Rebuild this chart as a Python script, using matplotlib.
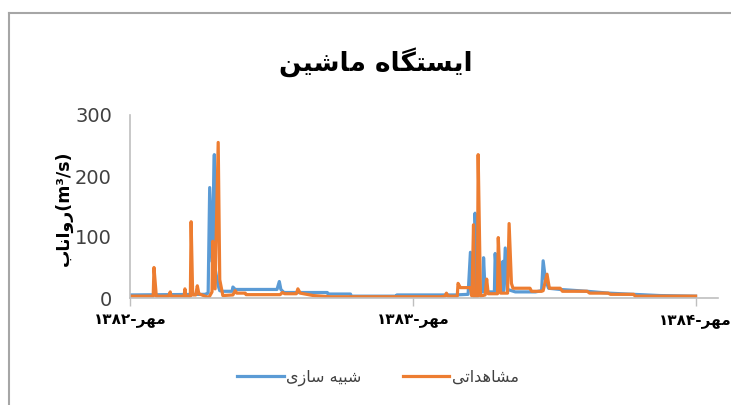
import matplotlib
matplotlib.use("Agg")
from matplotlib import pyplot as plt
from matplotlib.lines import Line2D
from matplotlib.transforms import ScaledTranslation
import numpy as np

# days since 1 Mehr 1382
sim_day = [0, 97, 101, 103, 106, 109, 110, 114, 116, 120, 132, 133, 136, 190, 193,
           195, 199, 255, 256, 285, 286, 344, 345, 401, 420, 437, 440, 442, 445, 446,
           449, 456, 457, 459, 471, 472, 475, 481, 482, 483, 485, 488, 498, 524, 532,
           534, 537, 541, 556, 591, 618, 651, 685, 731]
sim_q = [5, 6, 8, 181, 60, 235, 48, 20, 12, 11, 11, 18, 14, 14, 27,
         14, 9, 9, 6.5, 6.5, 3, 3, 5, 5, 5, 6, 75, 8, 8, 139,
         10, 10, 66, 10, 10, 73, 12, 12, 60, 12, 82, 14, 10, 10, 12,
         61, 30, 16, 14, 11, 8, 6, 4, 3]

obs_day = [0, 30, 31, 34, 50, 52, 53, 70, 71, 72, 78, 79, 81, 85, 87, 89, 97, 102,
           106, 107, 110, 114, 116, 120, 133, 136, 138, 149, 150, 194, 197, 200, 215,
           217, 220, 237, 259, 401, 407, 409, 411, 423, 424, 427, 440, 442, 444, 445,
           449, 450, 453, 459, 461, 463, 475, 476, 479, 488, 490, 493, 495, 517, 519,
           532, 534, 539, 542, 556, 559, 591, 594, 618, 621, 651, 653, 731]
obs_q = [3, 3, 50, 3, 3, 10, 3, 3, 15, 3, 3, 125, 5, 5, 20, 7, 3, 1,
         10, 93, 15, 255, 30, 4, 5, 12, 8, 8, 5.5, 5.5, 9, 7, 7,
         15, 8, 4, 2, 2, 3, 8, 3, 3, 24, 17, 17, 3, 120, 2,
         2, 235, 3, 5, 31, 7, 7, 99, 8, 8, 122, 24, 16, 16, 11,
         11, 12, 39, 16, 16, 11, 11, 8, 8, 6, 6, 3, 3]

tick_days = [0, 366, 731]
tick_years = ["۱۳۸۲", "۱۳۸۳", "۱۳۸۴"]
month = "مهر"
title = "ایستگاه ماشین"
ylabel_fa = "رواناب"
ylabel_unit = "(m³/s)"
sim_name = "شبیه سازی"
obs_name = "مشاهداتی"

# presentation forms: isolated, final, initial, medial
FORMS = {
    "ا": ("\uFE8D", "\uFE8E", None, None),
    "ب": ("\uFE8F", "\uFE90", "\uFE91", "\uFE92"),
    "ت": ("\uFE95", "\uFE96", "\uFE97", "\uFE98"),
    "د": ("\uFEA9", "\uFEAA", None, None),
    "ر": ("\uFEAD", "\uFEAE", None, None),
    "ز": ("\uFEAF", "\uFEB0", None, None),
    "س": ("\uFEB1", "\uFEB2", "\uFEB3", "\uFEB4"),
    "ش": ("\uFEB5", "\uFEB6", "\uFEB7", "\uFEB8"),
    "م": ("\uFEE1", "\uFEE2", "\uFEE3", "\uFEE4"),
    "ن": ("\uFEE5", "\uFEE6", "\uFEE7", "\uFEE8"),
    "ه": ("\uFEE9", "\uFEEA", "\uFEEB", "\uFEEC"),
    "و": ("\uFEED", "\uFEEE", None, None),
    "ی": ("\uFBFC", "\uFBFD", "\uFBFE", "\uFBFF"),
    "گ": ("\uFB92", "\uFB93", "\uFB94", "\uFB95"),
}


def shape(text):
    out = []
    for i, ch in enumerate(text):
        f = FORMS.get(ch)
        if f is None:
            out.append(ch)
            continue
        prev = FORMS.get(text[i - 1]) if i > 0 else None
        nxt = FORMS.get(text[i + 1]) if i + 1 < len(text) else None
        jp = prev is not None and prev[2] is not None
        jn = nxt is not None and f[2] is not None
        if jp and jn:
            out.append(f[3])
        elif jp:
            out.append(f[1])
        elif jn:
            out.append(f[2])
        else:
            out.append(f[0])
    return "".join(reversed(out))


plt.rcParams["font.family"] = ["DejaVu Sans"]
blue = "#5B9BD5"
orange = "#ED7D31"
grey_txt = "#404040"
grey_ax = "#BFBFBF"

fig = plt.figure(figsize=(7.31, 4.05), dpi=100)
ax = fig.add_axes([130 / 731, 1 - 298 / 405, 588 / 731, 183 / 405])

ax.plot(sim_day, sim_q, color=blue, lw=2.3)
ax.plot(obs_day, obs_q, color=orange, lw=2.3)

ax.set_xlim(0, 760)
ax.set_ylim(0, 300)
ax.set_yticks([0, 100, 200, 300])
ax.set_xticks(tick_days)
ax.set_xticklabels([y + "-" + shape(month) for y in tick_years],
                   fontweight="bold", fontsize=11, color="black")
shift = ScaledTranslation(-6 / 100, 0, fig.dpi_scale_trans)
for lab in ax.get_xticklabels():
    lab.set_transform(lab.get_transform() + shift)
ax.tick_params(axis="y", length=0, pad=13, labelsize=14, labelcolor=grey_txt)
ax.tick_params(axis="x", length=6, width=1, color=grey_ax, pad=5)

for s in ["top", "right"]:
    ax.spines[s].set_visible(False)
for s in ["left", "bottom"]:
    ax.spines[s].set_color(grey_ax)
    ax.spines[s].set_linewidth(1.2)

fig.text(376 / 731, 1 - 62 / 405, shape(title), ha="center", va="center",
         fontsize=19, fontweight="bold", color="black")
fig.text(64 / 731, 1 - 208 / 405, shape(ylabel_fa) + ylabel_unit, rotation=90,
         ha="center", va="center", fontsize=12.5, fontweight="bold", color="black")

handles = [Line2D([], [], color=blue, lw=2.3), Line2D([], [], color=orange, lw=2.3)]
fig.legend(handles, [shape(sim_name), shape(obs_name)], loc="center",
           bbox_to_anchor=(378 / 731, 1 - 378 / 405), ncol=2, frameon=False,
           fontsize=11.5, handlelength=2.9, handletextpad=0.15, columnspacing=2.6,
           labelcolor=grey_txt)

# chart area border
fig.add_artist(Line2D([9 / 731, 1], [1 - 13 / 405, 1 - 13 / 405],
                      transform=fig.transFigure, color="#A6A6A6", lw=1.5))
fig.add_artist(Line2D([9 / 731, 9 / 731], [0, 1 - 13 / 405],
                      transform=fig.transFigure, color="#A6A6A6", lw=1.5))

fig.savefig("out.png", dpi=100)
